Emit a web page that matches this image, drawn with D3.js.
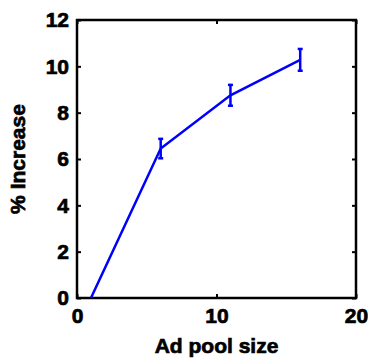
<!DOCTYPE html>
<html>
<head>
<meta charset="utf-8">
<script src="https://cdn.jsdelivr.net/npm/d3@7"></script>
<style>
  body { margin: 0; background: #fff; }
  text { font-family: "Liberation Sans", Arial, sans-serif; font-weight: bold; }
</style>
</head>
<body>
<script>
// data
var poolSize = [1, 6, 11, 16];
var increase = [0, 6.45, 8.75, 10.28];
var errBar = [0, 0.42, 0.45, 0.47];
var xTicks = [0, 10, 20];
var yTicks = [0, 2, 4, 6, 8, 10, 12];

var margin = {top: 20, right: 12, bottom: 62, left: 77},
    width = 368 - margin.left - margin.right,
    height = 360 - margin.top - margin.bottom;

var x = d3.scaleLinear().domain([0, 20]).range([0, width]);
var y = d3.scaleLinear().domain([0, 12]).range([height, 0]);

var svg = d3.select("body").append("svg")
    .attr("width", 368)
    .attr("height", 360)
  .append("g")
    .attr("transform", "translate(" + margin.left + "," + margin.top + ")");

// inward ticks, matlab style
var xAxis = d3.axisBottom(x).tickValues(xTicks).tickSize(-4).tickPadding(10);
var yAxis = d3.axisLeft(y).tickValues(yTicks).tickSize(-4).tickPadding(8);

var gX = svg.append("g")
    .attr("transform", "translate(0," + height + ")")
    .call(xAxis);
var gY = svg.append("g").call(yAxis);

// right / top ticks without labels
svg.append("g")
    .attr("transform", "translate(" + width + ",0)")
    .call(d3.axisRight(y).tickValues(yTicks).tickSize(-4).tickFormat(""));
svg.append("g")
    .call(d3.axisTop(x).tickValues(xTicks).tickSize(-4).tickFormat(""));

svg.selectAll(".domain").remove();
svg.selectAll(".tick line").attr("stroke", "#000").attr("stroke-width", 2);
svg.selectAll(".tick text")
    .attr("font-size", 21)
    .attr("fill", "#000")
    .attr("stroke", "#000")
    .attr("stroke-width", 0.7)
    .style("font-family", "Liberation Sans, Arial, sans-serif")
    .style("font-weight", "bold");

svg.append("rect")
    .attr("width", width)
    .attr("height", height)
    .attr("fill", "none")
    .attr("stroke", "#000")
    .attr("stroke-width", 2.5);

var data = poolSize.map(function(d, i) {
  return {x: d, y: increase[i], e: errBar[i]};
});

var line = d3.line()
    .x(function(d) { return x(d.x); })
    .y(function(d) { return y(d.y); });

svg.append("path")
    .datum(data)
    .attr("d", line)
    .attr("fill", "none")
    .attr("stroke", "#0000ff")
    .attr("stroke-width", 2.5);

// error bars
var eb = svg.selectAll(".eb")
    .data(data.filter(function(d) { return d.e > 0; }))
  .enter().append("g")
    .attr("stroke", "#0000ff")
    .attr("stroke-width", 2.5);

eb.append("line")
    .attr("x1", function(d) { return x(d.x); })
    .attr("x2", function(d) { return x(d.x); })
    .attr("y1", function(d) { return y(d.y - d.e); })
    .attr("y2", function(d) { return y(d.y + d.e); });

[-1, 1].forEach(function(s) {
  eb.append("line")
      .attr("x1", function(d) { return x(d.x) - 2.5; })
      .attr("x2", function(d) { return x(d.x) + 2.5; })
      .attr("y1", function(d) { return y(d.y + s * d.e); })
      .attr("y2", function(d) { return y(d.y + s * d.e); });
});

svg.append("text")
    .attr("x", width / 2)
    .attr("y", height + 55)
    .attr("text-anchor", "middle")
    .attr("font-size", 21)
    .attr("stroke", "#000")
    .attr("stroke-width", 0.7)
    .text("Ad pool size");

svg.append("text")
    .attr("transform", "translate(-52," + (height / 2) + ") rotate(-90)")
    .attr("text-anchor", "middle")
    .attr("font-size", 21)
    .attr("stroke", "#000")
    .attr("stroke-width", 0.7)
    .text("% Increase");
</script>
</body>
</html>
